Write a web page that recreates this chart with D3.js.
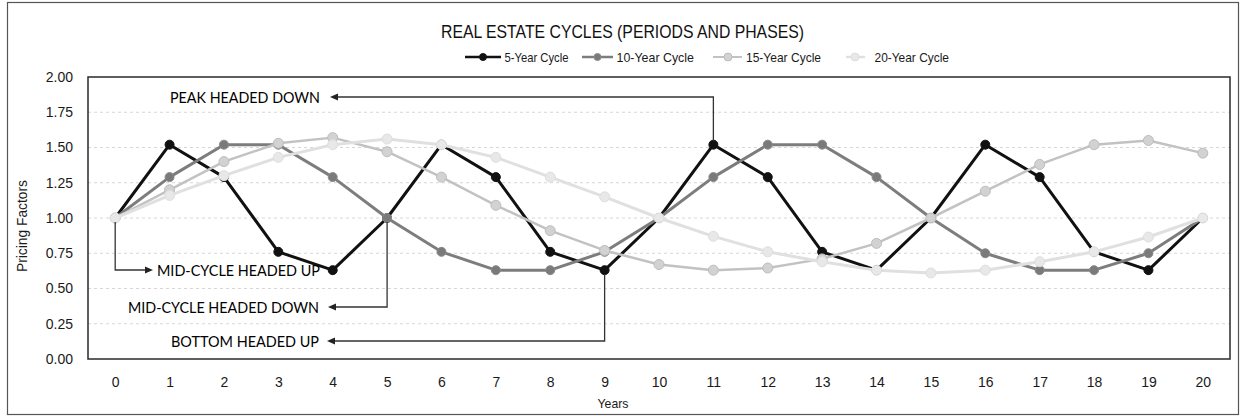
<!DOCTYPE html>
<html>
<head>
<meta charset="utf-8">
<script src="https://cdn.jsdelivr.net/npm/d3@7"></script>
<style>
  html, body { margin: 0; padding: 0; background: #fff; }
  svg { display: block; }
</style>
</head>
<body>
<svg id="chart" width="1241" height="417"></svg>
<script>
// Years on the category axis
const years = [0, 1, 2, 3, 4, 5, 6, 7, 8, 9, 10, 11, 12, 13, 14, 15, 16, 17, 18, 19, 20];
const yTicks = [0, 0.25, 0.5, 0.75, 1.0, 1.25, 1.5, 1.75, 2.0];

// Pricing factor for each cycle length
const cycle5  = [1.00, 1.52, 1.29, 0.76, 0.63, 1.00, 1.52, 1.29, 0.76, 0.63, 1.00, 1.52, 1.29, 0.76, 0.63, 1.00, 1.52, 1.29, 0.76, 0.63, 1.00];
const cycle10 = [1.00, 1.29, 1.52, 1.52, 1.29, 1.00, 0.76, 0.63, 0.63, 0.76, 1.00, 1.29, 1.52, 1.52, 1.29, 1.00, 0.75, 0.63, 0.63, 0.75, 1.00];
const cycle15 = [1.00, 1.20, 1.40, 1.53, 1.57, 1.47, 1.29, 1.09, 0.91, 0.77, 0.67, 0.63, 0.645, 0.71, 0.82, 1.00, 1.19, 1.38, 1.52, 1.55, 1.46];
const cycle20 = [1.00, 1.16, 1.30, 1.43, 1.52, 1.56, 1.52, 1.43, 1.29, 1.15, 1.00, 0.87, 0.76, 0.69, 0.63, 0.61, 0.63, 0.69, 0.76, 0.865, 1.00];

const seriesNames = ["5-Year Cycle", "10-Year Cycle", "15-Year Cycle", "20-Year Cycle"];
const seriesValues = [cycle5, cycle10, cycle15, cycle20];

// Phase callouts: which year of the 5-year cycle each points at
const calloutLabels = ["PEAK HEADED DOWN", "MID-CYCLE HEADED UP", "MID-CYCLE HEADED DOWN", "BOTTOM HEADED UP"];
const calloutYears  = [11, 0, 5, 9];

const styles = [
  { line: "#111111", width: 3,   r: 4.5, fill: "#111111", stroke: "#111111" },
  { line: "#7d7d7d", width: 3,   r: 4.5, fill: "#7a7a7a", stroke: "#8a8a8a" },
  { line: "#c2c2c2", width: 2.5, r: 5,   fill: "#d2d2d2", stroke: "#bdbdbd" },
  { line: "#e0e0e0", width: 3,   r: 5,   fill: "#e8e8e8", stroke: "#dedede" }
];

const svg = d3.select("#chart");
const plot = { left: 88, right: 1230, top: 77, bottom: 359 };

const x = d3.scalePoint().domain(years).range([plot.left, plot.right]).padding(0.5);
const y = d3.scaleLinear().domain([0, 2]).range([plot.bottom, plot.top]);

// Outer frame
svg.append("rect")
  .attr("x", 7.5).attr("y", 2.5).attr("width", 1231).attr("height", 412)
  .attr("fill", "none").attr("stroke", "#555").attr("stroke-width", 1.2);

// Title
svg.append("text")
  .attr("x", 441).attr("y", 38)
  .attr("textLength", 363).attr("lengthAdjust", "spacingAndGlyphs")
  .attr("font-family", "Liberation Sans, Arial, sans-serif")
  .attr("font-size", 19).attr("fill", "#111")
  .text("REAL ESTATE CYCLES (PERIODS AND PHASES)");

// Legend
const legendPos = [
  { l0: 465, l1: 501, m: 483, t0: 504.5, tw: 64 },
  { l0: 582, l1: 613, m: 597.5, t0: 616.5, tw: 77.5 },
  { l0: 713, l1: 742, m: 728, t0: 746, tw: 75 },
  { l0: 846, l1: 865, m: 855, t0: 874.5, tw: 74.5 }
];
const legend = svg.append("g").attr("class", "legend");
seriesNames.forEach((name, i) => {
  const p = legendPos[i], s = styles[i], ly = 57;
  legend.append("line")
    .attr("x1", p.l0).attr("x2", p.l1).attr("y1", ly).attr("y2", ly)
    .attr("stroke", s.line).attr("stroke-width", s.width - 0.5);
  legend.append("circle")
    .attr("cx", p.m).attr("cy", ly).attr("r", s.r - 1)
    .attr("fill", s.fill).attr("stroke", s.stroke);
  legend.append("text")
    .attr("x", p.t0).attr("y", ly + 4.5)
    .attr("textLength", p.tw).attr("lengthAdjust", "spacingAndGlyphs")
    .attr("font-family", "Liberation Sans, Arial, sans-serif")
    .attr("font-size", 13).attr("fill", "#1a1a1a")
    .text(name);
});

// Horizontal gridlines
svg.append("g").selectAll("line")
  .data(yTicks.filter(v => v > 0 && v < 2))
  .join("line")
  .attr("x1", plot.left).attr("x2", plot.right)
  .attr("y1", d => y(d)).attr("y2", d => y(d))
  .attr("stroke", "#d6d6d6").attr("stroke-width", 1)
  .attr("stroke-dasharray", "3,3");

// Plot area border
svg.append("rect")
  .attr("x", plot.left).attr("y", plot.top)
  .attr("width", plot.right - plot.left).attr("height", plot.bottom - plot.top)
  .attr("fill", "none").attr("stroke", "#2a2a2a").attr("stroke-width", 1.5);

// Axes
const yAxis = svg.append("g")
  .attr("transform", `translate(${plot.left},0)`)
  .call(d3.axisLeft(y).tickValues(yTicks).tickFormat(d3.format(".2f")).tickSize(0).tickPadding(15));
yAxis.select(".domain").remove();
yAxis.selectAll("text")
  .attr("font-family", "Liberation Sans, Arial, sans-serif")
  .attr("font-size", 14).attr("fill", "#1a1a1a");

const xAxis = svg.append("g")
  .attr("transform", `translate(0,${plot.bottom})`)
  .call(d3.axisBottom(x).tickSize(0).tickPadding(18));
xAxis.select(".domain").remove();
xAxis.selectAll("text")
  .attr("font-family", "Liberation Sans, Arial, sans-serif")
  .attr("font-size", 14).attr("fill", "#1a1a1a");

// Axis titles
svg.append("text")
  .attr("x", 613).attr("y", 408).attr("text-anchor", "middle")
  .attr("font-family", "Liberation Sans, Arial, sans-serif")
  .attr("font-size", 13).attr("fill", "#1a1a1a")
  .attr("textLength", 31).attr("lengthAdjust", "spacingAndGlyphs")
  .text("Years");
svg.append("text")
  .attr("transform", "translate(27,226) rotate(-90)")
  .attr("text-anchor", "middle")
  .attr("font-family", "Liberation Sans, Arial, sans-serif")
  .attr("font-size", 14).attr("fill", "#1a1a1a")
  .attr("textLength", 92).attr("lengthAdjust", "spacingAndGlyphs")
  .text("Pricing Factors");

// Series lines and markers, drawn in order so later series sit on top
const line = d3.line().x((d, i) => x(years[i])).y(d => y(d));
seriesValues.forEach((vals, i) => {
  const s = styles[i];
  const g = svg.append("g").attr("class", "series");
  g.append("path")
    .attr("d", line(vals))
    .attr("fill", "none").attr("stroke", s.line).attr("stroke-width", s.width)
    .attr("stroke-linejoin", "round");
  g.selectAll("circle").data(vals).join("circle")
    .attr("cx", (d, j) => x(years[j])).attr("cy", d => y(d))
    .attr("r", s.r).attr("fill", s.fill).attr("stroke", s.stroke).attr("stroke-width", 1);
});

// Phase callouts with elbow arrows
const ann = svg.append("g").attr("class", "callouts");
const arrowHead = (tipX, tipY, dir) => {
  // dir: -1 points left, +1 points right
  const len = 8, half = 3.5;
  return `M${tipX},${tipY} L${tipX - dir * len},${tipY - half} L${tipX - dir * len},${tipY + half} Z`;
};
const callouts = [
  { yr: calloutYears[0], v: cycle5[calloutYears[0]], elbowY: 97,  tipX: 330, dir: -1, tx: 320, anchor: "end",   tw: 150 },
  { yr: calloutYears[1], v: cycle5[calloutYears[1]], elbowY: 270, tipX: 153, dir: 1,  tx: 157, anchor: "start", tw: 163 },
  { yr: calloutYears[2], v: cycle5[calloutYears[2]], elbowY: 307, tipX: 328, dir: -1, tx: 319, anchor: "end",   tw: 191 },
  { yr: calloutYears[3], v: cycle5[calloutYears[3]], elbowY: 341, tipX: 327, dir: -1, tx: 319, anchor: "end",   tw: 148 }
];
callouts.forEach((c, i) => {
  const px = x(c.yr), py = y(c.v);
  const startY = c.elbowY < py ? py - 4 : py + 4;
  ann.append("path")
    .attr("d", `M${px},${startY} L${px},${c.elbowY} L${c.tipX - c.dir * 6},${c.elbowY}`)
    .attr("fill", "none").attr("stroke", "#333").attr("stroke-width", 1.3);
  ann.append("path")
    .attr("d", arrowHead(c.tipX, c.elbowY, c.dir))
    .attr("fill", "#222");
  ann.append("text")
    .attr("x", c.tx).attr("y", c.elbowY + 5.5)
    .attr("text-anchor", c.anchor)
    .attr("font-family", "Lato, Open Sans, sans-serif")
    .attr("font-size", 14.5).attr("fill", "#000")
    .attr("textLength", c.tw).attr("lengthAdjust", "spacingAndGlyphs")
    .text(calloutLabels[i]);
});
</script>
</body>
</html>
